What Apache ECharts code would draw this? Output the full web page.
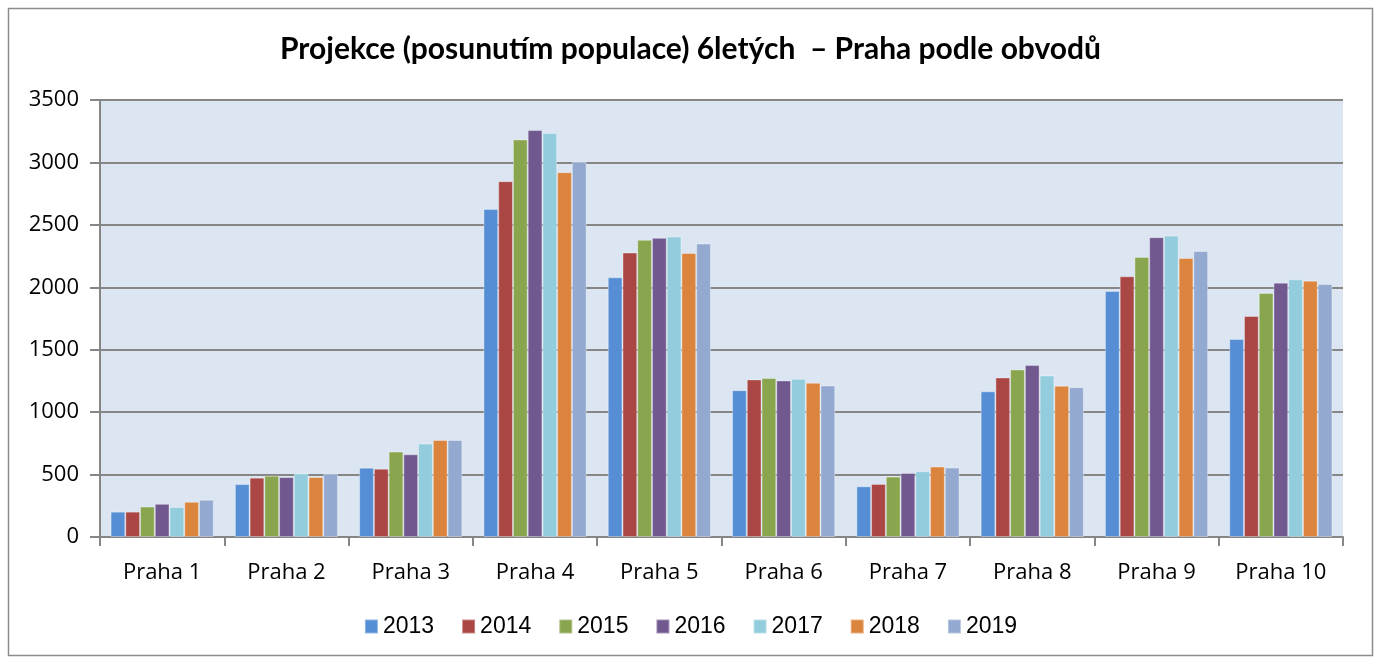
<!DOCTYPE html>
<html>
<head>
<meta charset="utf-8">
<script src="https://cdn.jsdelivr.net/npm/echarts@6/dist/echarts.min.js"></script>
<style>
  html, body { margin: 0; padding: 0; background: #ffffff; }
  #chart { width: 1381px; height: 661px; }
</style>
</head>
<body>
<div id="chart"></div>
<script>
// Districts of Prague
const categories = ['Praha 1', 'Praha 2', 'Praha 3', 'Praha 4', 'Praha 5',
                    'Praha 6', 'Praha 7', 'Praha 8', 'Praha 9', 'Praha 10'];

// Projected number of 6-year-olds per year
const years = ['2013', '2014', '2015', '2016', '2017', '2018', '2019'];
const v2013 = [203, 424, 555, 2628, 2080, 1176, 406, 1167, 1971, 1586];
const v2014 = [203, 475, 547, 2850, 2278, 1262, 425, 1278, 2088, 1770];
const v2015 = [244, 491, 684, 3184, 2380, 1273, 484, 1342, 2243, 1955];
const v2016 = [266, 480, 662, 3259, 2396, 1254, 513, 1377, 2401, 2037];
const v2017 = [240, 509, 748, 3235, 2406, 1267, 527, 1294, 2414, 2064];
const v2018 = [282, 480, 777, 2922, 2275, 1235, 564, 1211, 2235, 2053];
const v2019 = [298, 507, 777, 3005, 2350, 1214, 556, 1200, 2291, 2027];
const seriesValues = [v2013, v2014, v2015, v2016, v2017, v2018, v2019];

const yTicks = { min: 0, max: 3500, interval: 500 };

const colors = ['#558ed5', '#aa4644', '#89a54e', '#71588f', '#93cddd', '#db843d', '#93a9cf'];

const chart = echarts.init(document.getElementById('chart'));

const series = years.map((y, i) => ({
  name: y,
  type: 'bar',
  data: seriesValues[i],
  barGap: '0%',
  barCategoryGap: '17%',
  itemStyle: {
    color: colors[i],
    borderColor: 'rgba(255,255,255,0.35)',
    borderWidth: 1
  }
}));

chart.setOption({
  animation: false,
  color: colors,
  title: {
    text: 'Projekce (posunutím populace) 6letých  – Praha podle obvodů',
    left: 'center',
    top: 29,
    textStyle: {
      fontFamily: 'Lato',
      fontWeight: 'bold',
      fontSize: 30,
      color: '#000000'
    }
  },
  graphic: [{
    type: 'rect',
    shape: { x: 8.5, y: 8.5, width: 1364, height: 647 },
    style: { fill: 'none', stroke: '#8c8c8c', lineWidth: 1.5 },
    silent: true
  }],
  grid: {
    left: 100, right: 38, top: 100, bottom: 124,
    show: true,
    backgroundColor: '#dce6f2',
    borderWidth: 0
  },
  legend: {
    data: years,
    top: 610,
    left: 'center',
    itemWidth: 13,
    itemHeight: 14,
    itemGap: 27,
    icon: 'rect',
    textStyle: {
      fontFamily: 'Liberation Sans, Arial',
      fontSize: 23,
      color: '#000000'
    }
  },
  xAxis: {
    type: 'category',
    data: categories,
    boundaryGap: true,
    axisLine: { show: true, lineStyle: { color: '#868686', width: 2 } },
    axisTick: { show: true, alignWithLabel: false, length: 9, lineStyle: { color: '#868686', width: 2 } },
    axisLabel: {
      fontFamily: 'Open Sans',
      fontSize: 22,
      color: '#000000',
      margin: 25
    }
  },
  yAxis: {
    type: 'value',
    min: yTicks.min,
    max: yTicks.max,
    interval: yTicks.interval,
    axisLine: { show: true, lineStyle: { color: '#868686', width: 2 } },
    axisTick: { show: true, inside: false, length: 10, lineStyle: { color: '#868686', width: 2 } },
    splitLine: { show: true, lineStyle: { color: '#868686', width: 2 } },
    axisLabel: {
      fontFamily: 'Open Sans',
      fontSize: 22,
      color: '#000000',
      margin: 21,
      formatter: (v) => String(v)
    }
  },
  series: series
});
</script>
</body>
</html>
